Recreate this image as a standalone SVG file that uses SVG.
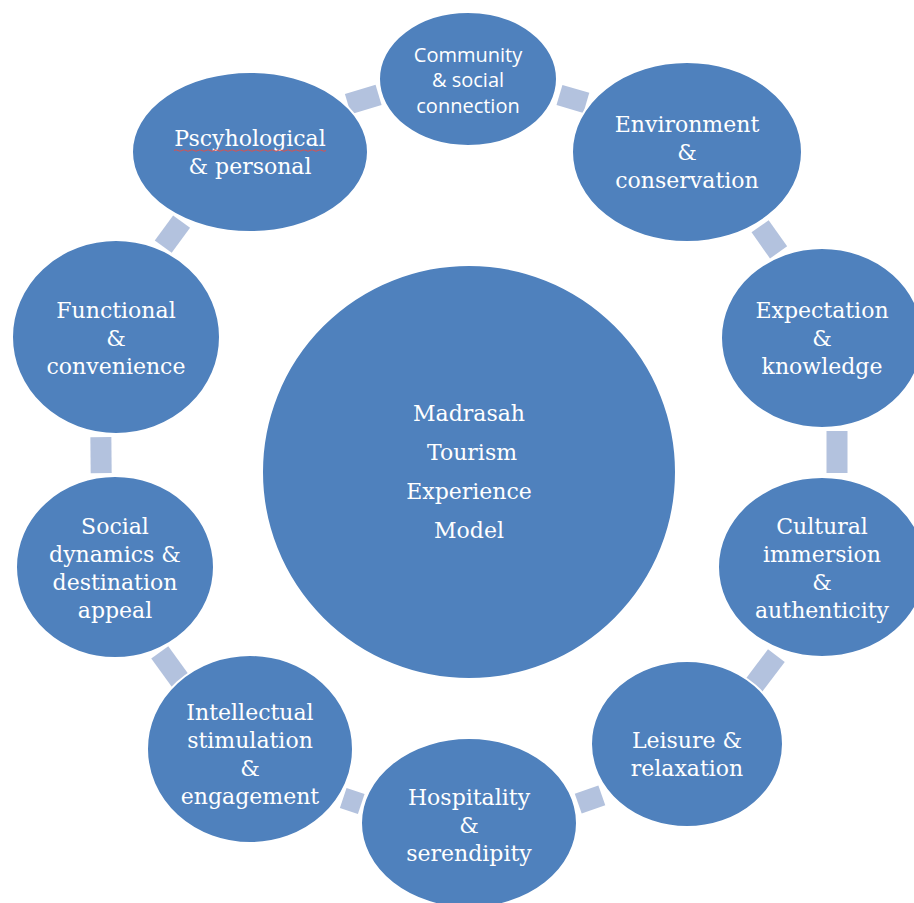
<svg xmlns="http://www.w3.org/2000/svg" width="914" height="903" viewBox="0 0 914 903">
  <style>
    .node { fill: #4F81BD; stroke: #FFFFFF; stroke-width: 2; }
    .lbl { fill: #FFFFFF; font-family: "DejaVu Serif", "Liberation Serif", serif; font-size: 22px; text-anchor: middle; }
    .sans { fill: #FFFFFF; font-family: "Open Sans", "Liberation Sans", sans-serif; font-size: 20px; text-anchor: middle; }
    .link { fill: #B3C2DE; }
  </style>
  <rect width="914" height="903" fill="#FFFFFF"/>

  <!-- ring connectors: tangential bars on a circle r=368 around (469,452) -->
  <g id="connectors">
    <rect class="link" x="826.5" y="-16" width="21" height="32" transform="translate(0 452) rotate(-106.7 469 0)"/>
    <rect class="link" x="826.5" y="-14" width="21" height="28" transform="translate(0 452) rotate(-73.6 469 0)"/>
    <rect class="link" x="826.5" y="-16" width="21" height="32" transform="translate(0 452) rotate(-35.3 469 0)"/>
    <rect class="link" x="826.5" y="-21" width="21" height="42" transform="translate(0 452) rotate(0 469 0)"/>
    <rect class="link" x="826.5" y="-23" width="21" height="46" transform="translate(0 452) rotate(37.1 469 0)"/>
    <rect class="link" x="826.5" y="-12.5" width="21" height="25" transform="translate(0 452) rotate(70.8 469 0)"/>
    <rect class="link" x="826.5" y="-9.5" width="21" height="19" transform="translate(0 452) rotate(108.5 469 0)"/>
    <rect class="link" x="826.5" y="-19" width="21" height="38" transform="translate(0 452) rotate(144.1 469 0)"/>
    <rect class="link" x="826.5" y="-18" width="21" height="36" transform="translate(0 452) rotate(179.5 469 0)"/>
    <rect class="link" x="826.5" y="-15.5" width="21" height="31" transform="translate(0 452) rotate(-143.7 469 0)"/>
  </g>

  <g id="center">
    <circle class="node" cx="469" cy="472" r="207"/>
    <text class="lbl" x="469" y="421">Madrasah</text>
    <text class="lbl" x="472" y="460">Tourism</text>
    <text class="lbl" x="469" y="499">Experience</text>
    <text class="lbl" x="469" y="538">Model</text>
  </g>

  <g id="community">
    <ellipse class="node" cx="468" cy="79" rx="89" ry="67"/>
    <text class="sans" x="468" y="62">Community</text>
    <text class="sans" x="468" y="87">&amp; social</text>
    <text class="sans" x="468" y="113">connection</text>
  </g>

  <g id="environment">
    <ellipse class="node" cx="687" cy="152" rx="115" ry="90"/>
    <text class="lbl" x="687" y="132">Environment</text>
    <text class="lbl" x="687" y="160">&amp;</text>
    <text class="lbl" x="687" y="188">conservation</text>
  </g>

  <g id="expectation">
    <ellipse class="node" cx="822" cy="338" rx="101" ry="90"/>
    <text class="lbl" x="822" y="318">Expectation</text>
    <text class="lbl" x="822" y="346">&amp;</text>
    <text class="lbl" x="822" y="374">knowledge</text>
  </g>

  <g id="cultural">
    <ellipse class="node" cx="822" cy="567" rx="104" ry="90"/>
    <text class="lbl" x="822" y="534">Cultural</text>
    <text class="lbl" x="822" y="562">immersion</text>
    <text class="lbl" x="822" y="590">&amp;</text>
    <text class="lbl" x="822" y="618">authenticity</text>
  </g>

  <g id="leisure">
    <ellipse class="node" cx="687" cy="744" rx="96" ry="83"/>
    <text class="lbl" x="687" y="748">Leisure &amp;</text>
    <text class="lbl" x="687" y="776">relaxation</text>
  </g>

  <g id="hospitality">
    <ellipse class="node" cx="469" cy="823" rx="108" ry="85"/>
    <text class="lbl" x="469" y="805">Hospitality</text>
    <text class="lbl" x="469" y="833">&amp;</text>
    <text class="lbl" x="469" y="861">serendipity</text>
  </g>

  <g id="intellectual">
    <ellipse class="node" cx="250" cy="749" rx="103" ry="94"/>
    <text class="lbl" x="250" y="720">Intellectual</text>
    <text class="lbl" x="250" y="748">stimulation</text>
    <text class="lbl" x="250" y="776">&amp;</text>
    <text class="lbl" x="250" y="804">engagement</text>
  </g>

  <g id="social">
    <ellipse class="node" cx="115" cy="567" rx="99" ry="91"/>
    <text class="lbl" x="115" y="534">Social</text>
    <text class="lbl" x="115" y="562">dynamics &amp;</text>
    <text class="lbl" x="115" y="590">destination</text>
    <text class="lbl" x="115" y="618">appeal</text>
  </g>

  <g id="functional">
    <ellipse class="node" cx="116" cy="337" rx="104" ry="97"/>
    <text class="lbl" x="116" y="318">Functional</text>
    <text class="lbl" x="116" y="346">&amp;</text>
    <text class="lbl" x="116" y="374">convenience</text>
  </g>

  <g id="psychological">
    <ellipse class="node" cx="250" cy="152" rx="118" ry="80"/>
    <text class="lbl" x="250" y="146">Pscyhological</text>
    <path d="M174 150.5 q2 -1.5 4 0 t4 0 t4 0 t4 0 t4 0 t4 0 t4 0 t4 0 t4 0 t4 0 t4 0 t4 0 t4 0 t4 0 t4 0 t4 0 t4 0 t4 0 t4 0 t4 0 t4 0 t4 0 t4 0 t4 0 t4 0 t4 0 t4 0 t4 0 t4 0 t4 0 t4 0 t4 0 t4 0 t4 0 t4 0 t4 0 t4 0 t4 0" fill="none" stroke="#D9534F" stroke-width="1"/>
    <text class="lbl" x="250" y="174">&amp; personal</text>
  </g>
</svg>
